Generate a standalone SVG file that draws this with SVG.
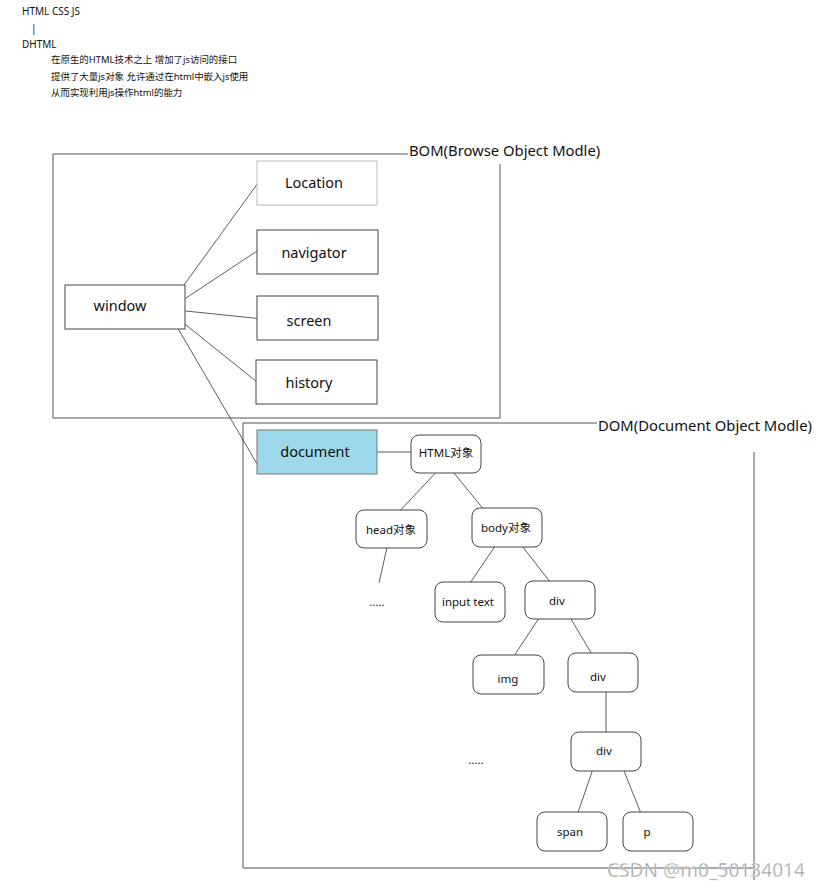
<svg xmlns="http://www.w3.org/2000/svg" width="819" height="890" viewBox="0 0 819 890">
<style>
text{font-family:"Noto Sans","Noto Sans CJK SC",sans-serif;fill:#111}
.hdr{font-size:10px}
.cn{font-size:9.45px}
.big{font-size:14.5px;text-anchor:middle}
.sm{font-size:11.5px;text-anchor:middle}
.lbl{font-size:14.8px}
.box{fill:#fff;stroke:#444;stroke-width:1}
.lbox{fill:#fff;stroke:#bbb;stroke-width:1}
.rbox{fill:#fff;stroke:#444;stroke-width:1}
.ln{stroke:#333;stroke-width:0.8;fill:none}
.frame{stroke:#555;stroke-width:1;fill:none}
</style>
<rect width="819" height="890" fill="#fff"/>
<g id="header">
<text class="hdr" x="22" y="15">HTML CSS JS</text>
<text class="hdr" x="31" y="32">|</text>
<text class="hdr" x="22" y="48">DHTML</text>
<text class="cn" x="51" y="63">在原生的HTML技术之上 增加了js访问的接口</text>
<text class="cn" x="51" y="80">提供了大量js对象 允许通过在html中嵌入js使用</text>
<text class="cn" x="51" y="96">从而实现利用js操作html的能力</text>
</g>
<g id="bom-frame">
<polyline class="frame" points="408,154 53,154 53,418 500,418 500,164"/>
<text class="lbl" x="409" y="156">BOM(Browse Object Modle)</text>
</g>
<g id="dom-frame">
<polyline class="frame" points="597,423 243,423 243,868 754,868"/>
<line class="frame" x1="754" y1="452" x2="754" y2="880"/>
<text class="lbl" x="598" y="431">DOM(Document Object Modle)</text>
</g>
<g id="connectors">
<line class="ln" x1="176" y1="296" x2="266" y2="172"/>
<line class="ln" x1="177" y1="304" x2="266" y2="245"/>
<line class="ln" x1="176" y1="310" x2="263" y2="319"/>
<line class="ln" x1="176" y1="317" x2="262" y2="386"/>
<line class="ln" x1="173" y1="320" x2="260" y2="469"/>
<line class="ln" x1="373" y1="452" x2="412" y2="452"/>
<line class="ln" x1="441" y1="467" x2="396" y2="515"/>
<line class="ln" x1="449" y1="467" x2="490" y2="517"/>
<line class="ln" x1="388" y1="543" x2="379" y2="583"/>
<line class="ln" x1="500" y1="539" x2="470" y2="583"/>
<line class="ln" x1="519" y1="542" x2="554" y2="587"/>
<line class="ln" x1="545" y1="609" x2="510" y2="662"/>
<line class="ln" x1="565" y1="609" x2="599" y2="666"/>
<line class="ln" x1="606" y1="688" x2="606" y2="743"/>
<line class="ln" x1="594" y1="766" x2="573" y2="827"/>
<line class="ln" x1="622" y1="766" x2="644" y2="821"/>
</g>
<g id="location"><rect class="lbox" x="257" y="161" width="120" height="44"/><text class="big" x="314" y="188">Location</text></g>
<g id="navigator"><rect class="box" x="257" y="230" width="121" height="44"/><text class="big" x="314" y="258">navigator</text></g>
<g id="screen"><rect class="box" x="257" y="296" width="121" height="44"/><text class="big" x="309" y="326">screen</text></g>
<g id="history"><rect class="box" x="256" y="360" width="121" height="44"/><text class="big" x="309" y="388">history</text></g>
<g id="window"><rect class="box" x="65" y="285" width="120" height="44"/><text class="big" x="120" y="311">window</text></g>
<g id="document"><rect x="257" y="430" width="120" height="44" fill="#9dd9ea" stroke="#777"/><text class="big" x="315" y="457">document</text></g>
<g id="html"><rect class="rbox" x="411" y="435" width="70" height="38" rx="8"/><text class="sm" x="446" y="457">HTML对象</text></g>
<g id="head"><rect class="rbox" x="356" y="510" width="71" height="38" rx="8"/><text class="sm" x="391" y="534">head对象</text></g>
<g id="body"><rect class="rbox" x="472" y="508" width="70" height="39" rx="8"/><text class="sm" x="506" y="532">body对象</text></g>
<g id="head-more"><text class="sm" x="377" y="606">.....</text></g>
<g id="input"><rect class="rbox" x="435" y="582" width="70" height="40" rx="8"/><text class="sm" x="468" y="606">input text</text></g>
<g id="div1"><rect class="rbox" x="525" y="581" width="70" height="38" rx="8"/><text class="sm" x="557" y="605">div</text></g>
<g id="img"><rect class="rbox" x="473" y="655" width="71" height="39" rx="8"/><text class="sm" x="508" y="683">img</text></g>
<g id="div2"><rect class="rbox" x="568" y="653" width="70" height="39" rx="8"/><text class="sm" x="598" y="681">div</text></g>
<g id="div-more"><text class="sm" x="476" y="764">.....</text></g>
<g id="div3"><rect class="rbox" x="571" y="732" width="70" height="39" rx="8"/><text class="sm" x="604" y="755">div</text></g>
<g id="span"><rect class="rbox" x="537" y="812" width="70" height="39" rx="8"/><text class="sm" x="570" y="836">span</text></g>
<g id="p"><rect class="rbox" x="623" y="812" width="70" height="39" rx="8"/><text class="sm" x="647" y="836">p</text></g>
<g id="watermark"><text x="607" y="877" font-size="19" textLength="198" lengthAdjust="spacingAndGlyphs" style="fill:#9a9a9a" stroke="#fff" stroke-width="0.4">CSDN @m0_50134014</text></g>
</svg>
